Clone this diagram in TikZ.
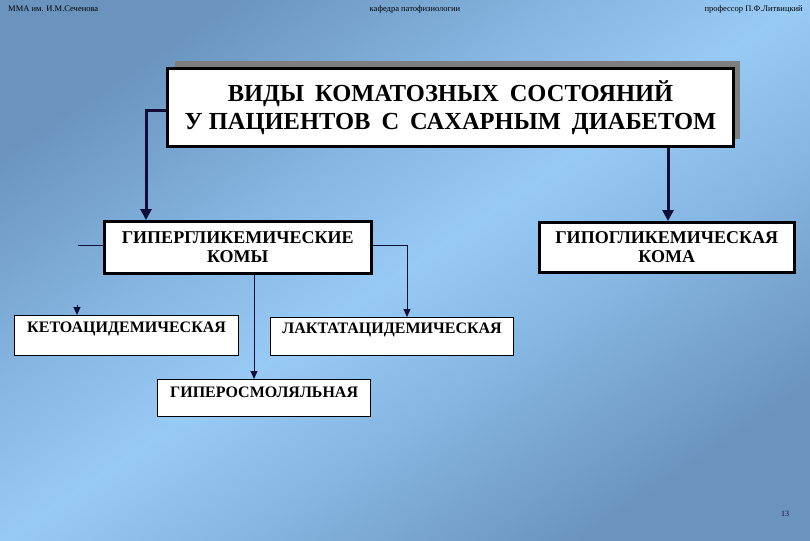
\documentclass[tikz,border=0pt]{standalone}
\usepackage{fontspec}
\setmainfont{Liberation Serif}
\usetikzlibrary{arrows.meta,calc}
\definecolor{bgdark}{HTML}{6A94BE}
\definecolor{bgmid}{HTML}{86B6E2}
\definecolor{bglight}{HTML}{98CAF6}
\definecolor{linecol}{HTML}{0E0E38}
\definecolor{shadowgray}{HTML}{7E7E7E}
\pgfdeclarehorizontalshading{bgshade}{100bp}{color(0bp)=(bgdark); color(25bp)=(bgdark); color(40bp)=(bgmid); color(50bp)=(bglight); color(60bp)=(bgmid); color(75bp)=(bgdark); color(100bp)=(bgdark)}
\newcommand{\wsp}{\hspace{11pt}}
\tikzset{
  header/.style={font=\fontsize{8.5}{9}\selectfont, text=black, inner sep=0pt},
  titlebox/.style={draw=black, fill=white, line width=3pt, anchor=north west, inner sep=0pt,
    minimum width=566pt, minimum height=78pt, align=center,
    font=\bfseries\fontsize{24.5}{28}\selectfont},
  midbox/.style={draw=black, fill=white, line width=2.5pt, anchor=north west, inner sep=0pt,
    align=center, font=\bfseries\fontsize{18}{19}\selectfont},
  lowbox/.style={draw=black, fill=white, line width=1.2pt, anchor=north west, inner sep=0pt,
    align=center, font=\bfseries\fontsize{16}{18}\selectfont},
  thickconn/.style={draw=linecol, line width=3pt, -{Triangle[width=11pt,length=11pt]}},
  thinconn/.style={draw=linecol, line width=1pt, -{Triangle[width=7pt,length=8pt]}},
  thinline/.style={draw=linecol, line width=1pt}
}
\begin{document}
\begin{tikzpicture}[x=1pt,y=-1pt]
\shade[shading=bgshade, shading angle=-56] (0,0) rectangle (810,540);
\useasboundingbox (0,0) rectangle (810,540);
% header
\node[header, anchor=west] (h1) at (8,9) {ММА им. И.М.Сеченова};
\node[header] (h2) at (415,9) {кафедра патофизиологии};
\node[header, anchor=east] (h3) at (803,9) {профессор П.Ф.Литвицкий};
% title
\fill[shadowgray] (175,61) rectangle (740,139);
\node[titlebox] (title) at (166,67) {ВИДЫ\wsp КОМАТОЗНЫХ\wsp СОСТОЯНИЙ\\У ПАЦИЕНТОВ\wsp С\wsp САХАРНЫМ\wsp ДИАБЕТОМ};
% middle boxes
\node[midbox, minimum width=267pt, minimum height=52pt] (hyper) at (103,220) {ГИПЕРГЛИКЕМИЧЕСКИЕ\\КОМЫ};
\node[midbox, minimum width=255pt, minimum height=50pt] (hypo) at (538,221) {ГИПОГЛИКЕМИЧЕСКАЯ\\КОМА};
% lower boxes
\node[lowbox, minimum width=224pt, text height=17pt, text depth=23pt] (keto) at (14,315) {КЕТОАЦИДЕМИЧЕСКАЯ};
\node[lowbox, minimum width=243pt, text height=16pt, text depth=22pt] (lact) at (270,317) {ЛАКТАТАЦИДЕМИЧЕСКАЯ};
\node[lowbox, minimum width=213pt, text height=18pt, text depth=19pt] (osm) at (157,379) {ГИПЕРОСМОЛЯЛЬНАЯ};
% page number
\node[font=\fontsize{8}{9}\selectfont, text=linecol, inner sep=0pt] (pg) at (785,514) {13};
% connectors
\coordinate (lx) at ($(hyper.north west)+(43,0)$);
\draw[thickconn] ($(title.west)+(0,3)$) -| (lx);
\coordinate (rx) at ($(hypo.north west)+(130,0)$);
\draw[thickconn] (title.south -| rx) -- (rx);
\coordinate (kx) at ($(keto.north west)+(63,0)$);
\coordinate (kstub) at ($(hyper.west)+(-25,-2)$);
\draw[thinline] ($(hyper.west)+(0,-2)$) -- (kstub);
\draw[thinconn] ($(kx)+(0,-10)$) -- (kx);
\coordinate (lcx) at ($(lact.north west)+(137,0)$);
\draw[thinconn] ($(hyper.east)+(0,-2)$) -| (lcx);
\coordinate (ox) at ($(osm.north west)+(97,0)$);
\draw[thinconn] (hyper.south -| ox) -- (ox);
\end{tikzpicture}
\end{document}
